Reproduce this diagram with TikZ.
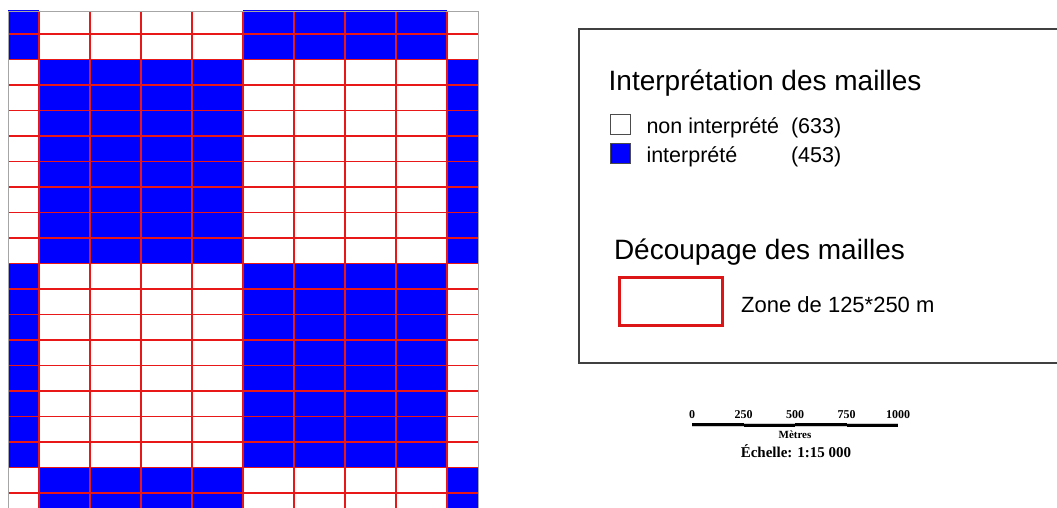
\documentclass[tikz,border=0pt]{standalone}
\usepackage{fontspec}
\setmainfont{Liberation Sans}
\newfontfamily\echellefont{Liberation Serif}
\usetikzlibrary{positioning}
\definecolor{maille}{RGB}{0,0,255}
\definecolor{trait}{RGB}{232,24,24}
\definecolor{cadre}{RGB}{220,22,22}
\tikzset{
  grille/.style={trait, line width=1.3pt}, % red lines between the meshes
  titre/.style={anchor=base west, inner sep=0pt, font=\fontsize{28}{30}\selectfont}, % legend headings
  item/.style={anchor=base west, inner sep=0pt, font=\fontsize{21.5}{24}\selectfont}, % legend entries
  case/.style={draw=black!70, line width=0.8pt, minimum width=20pt, minimum height=20pt, inner sep=0pt}, % legend squares
  graduation/.style={anchor=base, inner sep=0pt, font=\echellefont\bfseries\fontsize{12}{14}\selectfont}, % scale bar text
}

\begin{document}
\begin{tikzpicture}[x=1pt, y=-1pt]
        \useasboundingbox (0,0) rectangle (1057,508);

        % the grid of meshes
        \begin{scope}
          \clip (8,11) rectangle (478,508);
          \fill[white] (8,11) rectangle (478,508);
          \foreach \i in {0,...,3}
            \foreach \j in {0,...,3} {
              \pgfmathtruncatemacro{\pair}{mod(\i+\j,2)}
              \ifnum\pair=0
                \fill[maille] ({39+204*(\i-1)},{59.5+204*(\j-1)}) rectangle ++(204,204);
              \fi
            }
          \foreach \k in {0,...,8}
            \draw[grille] ({39+51*\k},11) -- ++(0,497);
          \foreach \k in {0,...,18}
            \draw[grille] (8,{34+25.5*\k}) -- ++(470,0);
        \end{scope}
        \draw[black!35, line width=0.8pt] (8,508) -- (8,11) -- (478,11) -- (478,508);

        % legend frame
        \draw[black!75, line width=1.2pt] (1057,29) -- (579,29) -- (579,363) -- (1057,363);

        \node[titre] (interp) at (608.5,90.7) {Interprétation des mailles};
        \node[case, fill=white] (case_non) at (620,124.3) {};
        \node[case, fill=maille] (case_oui) at (620,153.3) {};
        \node[item] (txt_non) at (646.3,133.3) {non interprété};
        \node[item] (txt_oui) at (646.3,162.5) {interprété};
        \node[item] (nb_non) at (790.8,133.3) {(633)};
        \node[item] (nb_oui) at (790.8,162.5) {(453)};

        \node[titre] (decoup) at (613.8,259.3) {Découpage des mailles};
        \node[draw=cadre, line width=3pt, minimum width=103pt, minimum height=48pt, inner sep=0pt] (zone) at (670.5,301) {};
        \node[anchor=base west, inner sep=0pt, font=\fontsize{22}{24}\selectfont] (txt_zone) at (741,312.7) {Zone de 125*250 m};

        % scale bar
        \foreach \k in {0,...,3} {
          \pgfmathtruncatemacro{\pair}{mod(\k,2)}
          \ifnum\pair=0
            \fill[black] ({692+51.5*\k},422.8) rectangle ++(51.5,3);
            \fill[black!20] ({692+51.5*\k},425.8) rectangle ++(51.5,1.6);
          \else
            \fill[black!20] ({692+51.5*\k},422.8) rectangle ++(51.5,1.6);
            \fill[black] ({692+51.5*\k},424.4) rectangle ++(51.5,3);
          \fi
        }
        \foreach \k/\lab in {0/0, 1/250, 2/500, 3/750, 4/1000}
          \node[graduation] (grad\k) at ({692+51.5*\k},418) {\lab};
        \node[graduation, font=\echellefont\bfseries\fontsize{11}{13}\selectfont] (metres) at (795,438.5) {Mètres};
        \node[graduation, font=\echellefont\bfseries\fontsize{15}{17}\selectfont] (echelle) at (796,457.3) {Échelle: 1:15 000};
    \end{tikzpicture}
\end{document}
